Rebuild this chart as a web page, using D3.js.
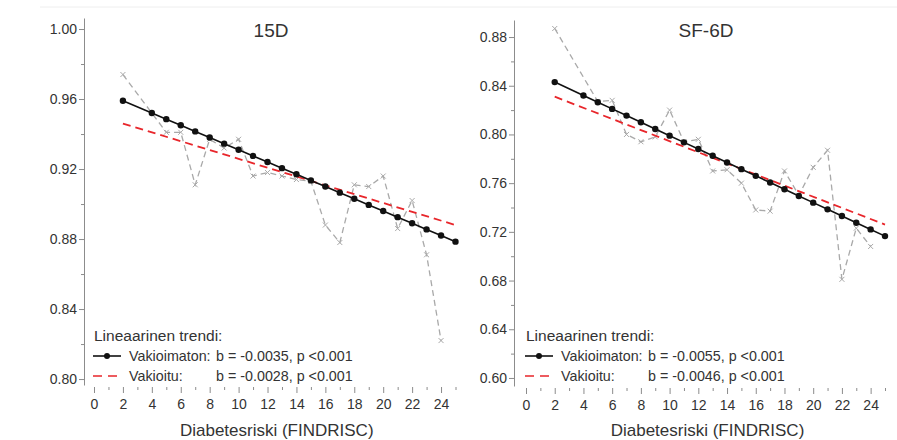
<!DOCTYPE html>
<html>
<head>
<meta charset="utf-8">
<script src="https://cdn.jsdelivr.net/npm/d3@7/dist/d3.min.js"></script>
<style>
  body { margin: 0; background: #fff; }
  svg text { font-family: "Liberation Sans", Arial, sans-serif; fill: #333; }
</style>
</head>
<body>
<script>
// FINDRISC scores used by the series
var trendX = [2, 4, 5, 6, 7, 8, 9, 10, 11, 12, 13, 14, 15, 16, 17, 18, 19, 20, 21, 22, 23, 24, 25];
var obsX = [2, 5, 6, 7, 8, 9, 10, 11, 12, 13, 14, 15, 16, 17, 18, 19, 20, 21, 22, 23, 24];
var adjX = [2, 25];

// 15D
var trend15D = [0.959, 0.952, 0.9485, 0.945, 0.9415, 0.938, 0.9345, 0.931, 0.9275, 0.924, 0.9205, 0.917,
                0.9135, 0.910, 0.9065, 0.903, 0.8995, 0.896, 0.8925, 0.889, 0.8855, 0.882, 0.8785];
var obs15D = [0.974, 0.941, 0.941, 0.911, 0.937, 0.932, 0.937, 0.916, 0.918, 0.916, 0.914,
              0.913, 0.888, 0.878, 0.911, 0.910, 0.916, 0.886, 0.902, 0.871, 0.822];
var adj15D = [0.946, 0.888];

// SF-6D
var trendSF = [0.843, 0.832, 0.8265, 0.821, 0.8155, 0.810, 0.8045, 0.799, 0.7935, 0.788, 0.7825, 0.777,
               0.7715, 0.766, 0.7605, 0.755, 0.7495, 0.744, 0.7385, 0.733, 0.7275, 0.722, 0.7165];
var obsSF = [0.887, 0.827, 0.828, 0.800, 0.794, 0.798, 0.820, 0.794, 0.796, 0.770, 0.771,
             0.760, 0.738, 0.737, 0.770, 0.750, 0.773, 0.787, 0.681, 0.723, 0.708];
var adjSF = [0.831, 0.726];

// ticks
var xMajor = [0, 2, 4, 6, 8, 10, 12, 14, 16, 18, 20, 22, 24];
var xMinor = [1, 3, 5, 7, 9, 11, 13, 15, 17, 19, 21, 23, 25];
var yMajor15D = [0.80, 0.84, 0.88, 0.92, 0.96, 1.00];
var yMinor15D = [0.82, 0.86, 0.90, 0.94, 0.98];
var yMajorSF = [0.60, 0.64, 0.68, 0.72, 0.76, 0.80, 0.84, 0.88];
var yMinorSF = [0.62, 0.66, 0.70, 0.74, 0.78, 0.82, 0.86];

// legend texts
var legendTitle = "Lineaarinen trendi:";
var legendNames = ["Vakioimaton:", "Vakioitu:"];
var legend15D = ["b = -0.0035, p <0.001", "b = -0.0028, p <0.001"];
var legendSF = ["b = -0.0055, p <0.001", "b = -0.0046, p <0.001"];

var width = 897;
var height = 440;

var svg = d3.select("body")
            .append("svg")
            .attr("width", width)
            .attr("height", height);

// faint line at the top of the figure
svg.append("line")
   .attr("x1", 40).attr("x2", width)
   .attr("y1", 7).attr("y2", 7)
   .attr("stroke", "#eeeeee");

function drawPanel(p) {
  var g = svg.append("g");

  var x = d3.scaleLinear().domain([0, 25]).range([p.x0, p.x25]);
  var y = d3.scaleLinear().domain(p.yDomain).range([p.yBottom, p.yTop]);

  // y axis
  var yAxis = g.append("g")
     .attr("transform", "translate(" + p.axisX + ",0)")
     .call(d3.axisLeft(y).tickValues(p.yMajor).tickSize(5).tickSizeOuter(0)
             .tickFormat(d3.format(".2f")));
  yAxis.select(".domain").attr("stroke", "#8c8c8c");
  yAxis.selectAll(".tick line").attr("stroke", "#8c8c8c");
  yAxis.selectAll(".tick text").attr("font-size", 14).attr("fill", "#333").attr("x", -7);

  g.append("g")
   .attr("transform", "translate(" + p.axisX + ",0)")
   .call(d3.axisLeft(y).tickValues(p.yMinor).tickSize(3).tickFormat(""))
   .call(function(s) { s.select(".domain").remove(); })
   .selectAll(".tick line").attr("stroke", "#8c8c8c");

  // x axis, ticks only
  var xAxis = g.append("g")
     .attr("transform", "translate(0," + p.axisY + ")")
     .call(d3.axisBottom(x).tickValues(xMajor).tickSize(6).tickPadding(6));
  xAxis.select(".domain").remove();
  xAxis.selectAll(".tick line").attr("stroke", "#8c8c8c");
  xAxis.selectAll(".tick text").attr("font-size", 14).attr("fill", "#333");

  g.append("g")
   .attr("transform", "translate(0," + p.axisY + ")")
   .call(d3.axisBottom(x).tickValues(xMinor).tickSize(3).tickFormat(""))
   .call(function(s) { s.select(".domain").remove(); })
   .selectAll(".tick line").attr("stroke", "#8c8c8c");

  // x axis title
  g.append("text")
   .attr("x", (x(0) + x(25)) / 2 + 2)
   .attr("y", 436)
   .attr("text-anchor", "middle")
   .attr("font-size", 17)
   .text("Diabetesriski (FINDRISC)");

  // panel title
  g.append("text")
   .attr("x", p.titleX)
   .attr("y", 37)
   .attr("text-anchor", "middle")
   .attr("font-size", 19)
   .text(p.title);

  // observed means, grey dashed with x markers
  var obsData = obsX.map(function(d, i) { return [d, p.obs[i]]; });
  var line = d3.line().x(function(d) { return x(d[0]); }).y(function(d) { return y(d[1]); });

  g.append("path")
   .datum(obsData)
   .attr("d", line)
   .attr("fill", "none")
   .attr("stroke", "#a9a9a9")
   .attr("stroke-width", 1.3)
   .attr("stroke-dasharray", "6,4");

  g.selectAll(".obs")
   .data(obsData)
   .enter()
   .append("path")
   .attr("class", "obs")
   .attr("d", function(d) {
     var cx = x(d[0]), cy = y(d[1]), s = 2.5;
     return "M" + (cx - s) + "," + (cy - s) + "L" + (cx + s) + "," + (cy + s) +
            "M" + (cx - s) + "," + (cy + s) + "L" + (cx + s) + "," + (cy - s);
   })
   .attr("stroke", "#a9a9a9")
   .attr("stroke-width", 1);

  // adjusted trend, red dashed
  var adjData = adjX.map(function(d, i) { return [d, p.adj[i]]; });
  g.append("path")
   .datum(adjData)
   .attr("d", line)
   .attr("fill", "none")
   .attr("stroke", "#e8262b")
   .attr("stroke-width", 1.8)
   .attr("stroke-dasharray", "8,5");

  // unadjusted trend, black with dots
  var trendData = trendX.map(function(d, i) { return [d, p.trend[i]]; });
  g.append("path")
   .datum(trendData)
   .attr("d", line)
   .attr("fill", "none")
   .attr("stroke", "#111")
   .attr("stroke-width", 1.6);

  g.selectAll(".dot")
   .data(trendData)
   .enter()
   .append("circle")
   .attr("class", "dot")
   .attr("cx", function(d) { return x(d[0]); })
   .attr("cy", function(d) { return y(d[1]); })
   .attr("r", 3.2)
   .attr("fill", "#111");

  // legend
  var lx = p.legendX;
  g.append("text")
   .attr("x", lx + 1).attr("y", 341)
   .attr("font-size", 15.5)
   .text(legendTitle);

  g.append("line")
   .attr("x1", lx).attr("x2", lx + 28)
   .attr("y1", 356).attr("y2", 356)
   .attr("stroke", "#111").attr("stroke-width", 1.6);
  g.append("circle")
   .attr("cx", lx + 14).attr("cy", 356).attr("r", 3)
   .attr("fill", "#111");

  g.append("line")
   .attr("x1", lx).attr("x2", lx + 28)
   .attr("y1", 376).attr("y2", 376)
   .attr("stroke", "#e8262b").attr("stroke-width", 1.6)
   .attr("stroke-dasharray", "9,6");

  legendNames.forEach(function(name, i) {
    g.append("text")
     .attr("x", lx + 36).attr("y", 361 + i * 20)
     .attr("font-size", 14.3)
     .text(name);
    g.append("text")
     .attr("x", lx + 36 + 87).attr("y", 361 + i * 20)
     .attr("font-size", 14.3)
     .text(p.legend[i]);
  });
}

drawPanel({
  title: "15D", titleX: 271,
  x0: 94, x25: 455.5, axisX: 84, axisY: 387,
  yDomain: [0.7966, 1.0063], yBottom: 385, yTop: 18,
  yMajor: yMajor15D, yMinor: yMinor15D,
  trend: trend15D, obs: obs15D, adj: adj15D,
  legendX: 93, legend: legend15D
});

drawPanel({
  title: "SF-6D", titleX: 706,
  x0: 526, x25: 885, axisX: 514, axisY: 388,
  yDomain: [0.5934, 0.894], yBottom: 386, yTop: 20,
  yMajor: yMajorSF, yMinor: yMinorSF,
  trend: trendSF, obs: obsSF, adj: adjSF,
  legendX: 525, legend: legendSF
});
</script>
</body>
</html>
